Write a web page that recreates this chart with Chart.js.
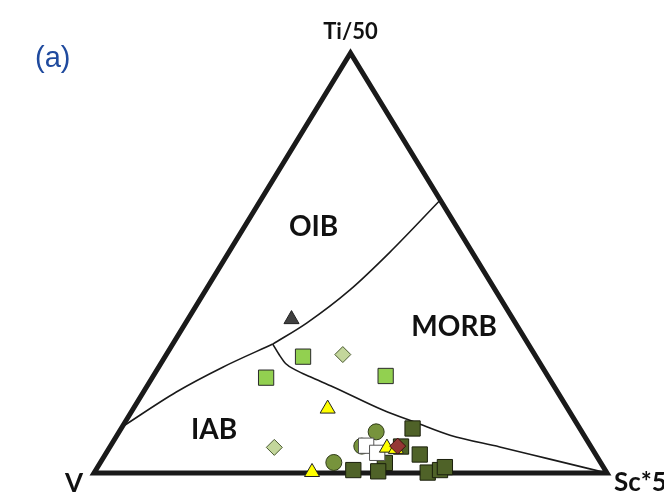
<!DOCTYPE html>
<html>
<head>
<meta charset="utf-8">
<script src="https://cdn.jsdelivr.net/npm/chart.js@4.4.1/dist/chart.umd.min.js"></script>
<style>
  html, body { margin: 0; padding: 0; background: #ffffff; }
  canvas { display: block; }
</style>
</head>
<body>
<canvas id="ternary" width="664" height="495"></canvas>
<script>
// Compositions as [Ti/50, V, Sc*5] percentages
const lightGreenSquares = [[27.7, 45.4, 26.9], [22.7, 55.1, 22.2], [23.1, 31.6, 45.3]];
const paleDiamonds = [[28.2, 37.4, 34.4], [6.1, 61.8, 32.1]];
const yellowTriangles = [[15.3, 46.8, 37.9], [0.2, 57.4, 42.4], [6.0, 39.9, 54.1], [5.7, 38.3, 56.0]];
const greyTriangles = [[36.6, 43.2, 20.2]];
const oliveCircles = [[9.8, 40.1, 50.1], [6.4, 44.6, 49.0], [2.5, 52.0, 45.5]];
const whiteSquares = [[6.5, 43.7, 49.8], [4.8, 42.4, 52.8]];
const redDiamonds = [[6.4, 37.6, 56.0]];
const darkOliveSquares = [
  [10.6, 32.6, 56.8], [6.3, 37.0, 56.7], [4.4, 34.3, 61.3], [2.4, 42.1, 55.5],
  [0.4, 44.4, 55.2], [0.7, 49.1, 50.2], [0.1, 34.9, 65.0], [0.7, 32.2, 67.1], [1.4, 30.9, 67.7]
];

// Field boundaries, same [Ti/50, V, Sc*5] order
const oibMorbBoundary = [[65.0, 0.0, 35.0], [52.6, 16.0, 31.4], [43.6, 28.3, 28.1], [35.7, 40.7, 23.6], [30.7, 49.8, 19.5]];
const oibIabBoundary = [[30.7, 49.8, 19.5], [25.2, 62.3, 12.5], [19.3, 74.3, 6.4], [11.0, 89.0, 0.0]];
const iabMorbBoundary = [
  [30.7, 49.8, 19.5], [27.9, 49.8, 22.3], [26.0, 49.6, 24.4], [24.5, 48.4, 27.1], [22.9, 46.4, 30.7],
  [20.5, 43.1, 36.4], [15.0, 36.2, 48.8], [11.9, 31.1, 57.0], [9.0, 26.1, 64.9], [6.2, 17.8, 76.0],
  [3.3, 9.5, 87.2], [0.0, 0.0, 100.0]
];

// Triangle corners: V (left), Sc*5 (right), Ti/50 (top)
const corners = { V: [0, 100, 0], Sc: [0, 0, 100], Ti: [100, 0, 0] };

// Ternary -> cartesian (x along V->Sc, y toward Ti)
function toXY(c) {
  const [ti, v, sc] = c;
  const s = ti + v + sc;
  return { x: (sc + ti / 2) / s, y: ti / s };
}
const pts = arr => arr.map(toXY);

function markerSet(data, style, radius, fill, stroke, order) {
  return {
    data: pts(data), showLine: false, pointStyle: style, pointRadius: radius,
    pointHoverRadius: radius, backgroundColor: fill, borderColor: stroke,
    borderWidth: 1, order: order, clip: false
  };
}
function curveSet(data, width, smooth, order) {
  return {
    data: pts(data), showLine: true, borderColor: '#1a1a1a', borderWidth: width,
    pointRadius: 0, pointHoverRadius: 0, tension: smooth ? 0.4 : 0,
    cubicInterpolationMode: smooth ? 'monotone' : 'default', fill: false,
    order: order, clip: false, borderJoinStyle: 'miter'
  };
}

// Field names and corner captions
const fieldLabels = [
  { text: 'OIB', at: [0.428, 0.586] },
  { text: 'MORB', at: [0.702, 0.348] },
  { text: 'IAB', at: [0.234, 0.102] }
];

const labelPlugin = {
  id: 'ternaryLabels',
  afterDraw(chart) {
    const { ctx, scales: { x, y } } = chart;
    ctx.save();
    ctx.fillStyle = '#111111';
    ctx.textBaseline = 'middle';
    ctx.textAlign = 'center';
    ctx.font = 'bold 28px Lato, "Open Sans", sans-serif';
    fieldLabels.forEach(l => ctx.fillText(l.text, x.getPixelForValue(l.at[0]), y.getPixelForValue(l.at[1])));

    const top = toXY(corners.Ti), left = toXY(corners.V), right = toXY(corners.Sc);
    ctx.font = 'bold 22px Lato, "Open Sans", sans-serif';
    ctx.fillText('Ti/50', x.getPixelForValue(top.x), y.getPixelForValue(top.y) - 21);
    ctx.font = 'bold 26px Lato, "Open Sans", sans-serif';
    ctx.fillText('V', x.getPixelForValue(left.x) - 20, y.getPixelForValue(left.y) + 11);
    ctx.textAlign = 'left';
    ctx.fillText('Sc*5', x.getPixelForValue(right.x) + 7, y.getPixelForValue(right.y) + 10);

    ctx.fillStyle = '#1f4a9e';
    ctx.font = '29px "Liberation Sans", Arial, sans-serif';
    ctx.fillText('(a)', 35, 59);
    ctx.restore();
  }
};

const frame = [corners.V, corners.Sc, corners.Ti, corners.V, corners.Sc];

new Chart(document.getElementById('ternary'), {
  type: 'scatter',
  data: {
    datasets: [
      curveSet(frame, 5, false, 20),
      curveSet(oibMorbBoundary, 1.6, true, 19),
      curveSet(oibIabBoundary, 1.6, true, 19),
      curveSet(iabMorbBoundary, 1.6, true, 19),
      markerSet(greyTriangles, 'triangle', 8.7, '#404040', '#222222', 10),
      markerSet(lightGreenSquares, 'rect', 10.8, '#92d050', '#2a2a2a', 10),
      markerSet(paleDiamonds, 'rectRot', 8, '#c3d69b', '#4a5a30', 10),
      markerSet(darkOliveSquares, 'rect', 10.8, '#4f6228', '#1a1f0c', 9),
      markerSet(oliveCircles, 'circle', 8, '#77933c', '#2f3a18', 8),
      markerSet(whiteSquares, 'rect', 10.8, '#ffffff', '#555555', 7),
      markerSet(yellowTriangles, 'triangle', 8.7, '#ffff00', '#222222', 6),
      markerSet(redDiamonds, 'rectRot', 8, '#953735', '#3a1010', 5)
    ]
  },
  options: {
    responsive: false,
    animation: false,
    events: [],
    layout: { padding: { left: 94, right: 57, top: 53, bottom: 22 } },
    scales: {
      x: { type: 'linear', min: 0, max: 1, display: false },
      y: { type: 'linear', min: 0, max: 1, display: false }
    },
    plugins: { legend: { display: false }, tooltip: { enabled: false } }
  },
  plugins: [labelPlugin]
});
</script>
</body>
</html>
